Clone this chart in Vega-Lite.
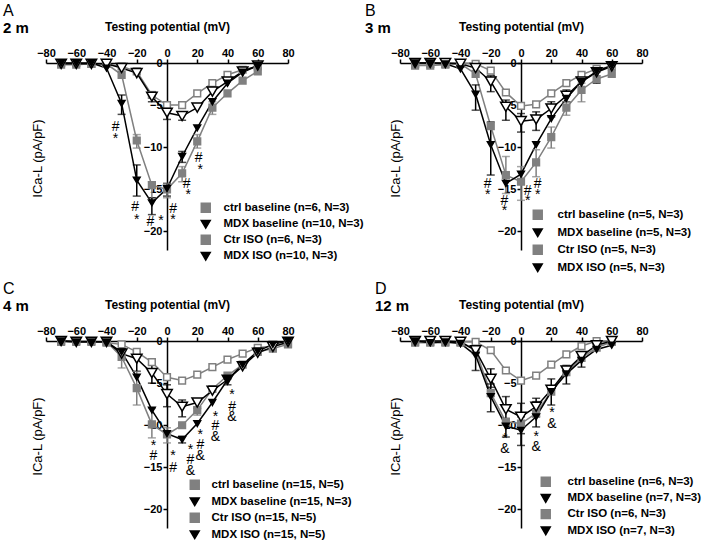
{
"$schema": "https://vega.github.io/schema/vega-lite/v6.json",
"padding": {"left": 3, "top": 3, "right": 0, "bottom": 0},
"config": {
 "font": "Liberation Sans",
 "view": {"stroke": null},
 "title": {"anchor": "start", "frame": "group", "fontSize": 16, "fontWeight": "normal", "color": "black", "subtitleFontSize": 15, "subtitleFontWeight": "bold", "subtitleColor": "black", "offset": -16, "subtitlePadding": 2},
 "axis": {"labelColor": "black", "titleColor": "black", "domainColor": "black", "tickColor": "black", "grid": false, "labelFontWeight": "bold", "labelFontSize": 11, "domainWidth": 1.5, "tickWidth": 1.5, "tickSize": 4, "labelPadding": 1},
 "legend": {"labelFontSize": 11.5, "labelFontWeight": "bold", "labelColor": "black", "labelOffset": 12, "padding": 0, "rowPadding": 0.5, "symbolSize": 80, "symbolStrokeWidth": 1.5, "symbolOpacity": 1}
},
"datasets": {
"pts": [
{"p":"A","g":"ctrl baseline","v":-70,"i":0},{"p":"A","g":"ctrl baseline","v":-60,"i":0},{"p":"A","g":"ctrl baseline","v":-50,"i":-0.1},{"p":"A","g":"ctrl baseline","v":-40,"i":-0.1},{"p":"A","g":"ctrl baseline","v":-30,"i":-0.4},{"p":"A","g":"ctrl baseline","v":-20,"i":-1.0},{"p":"A","g":"ctrl baseline","v":-10,"i":-3.8},{"p":"A","g":"ctrl baseline","v":0,"i":-5.0},{"p":"A","g":"ctrl baseline","v":10,"i":-5.0},{"p":"A","g":"ctrl baseline","v":20,"i":-3.6},{"p":"A","g":"ctrl baseline","v":30,"i":-2.4},{"p":"A","g":"ctrl baseline","v":40,"i":-1.4},{"p":"A","g":"ctrl baseline","v":50,"i":-0.8},{"p":"A","g":"ctrl baseline","v":60,"i":-0.4},
{"p":"A","g":"Ctr ISO","v":-70,"i":-0.2},{"p":"A","g":"Ctr ISO","v":-60,"i":-0.2},{"p":"A","g":"Ctr ISO","v":-50,"i":-0.1},{"p":"A","g":"Ctr ISO","v":-40,"i":-0.1},{"p":"A","g":"Ctr ISO","v":-30,"i":-1.4},{"p":"A","g":"Ctr ISO","v":-20,"i":-9.2},{"p":"A","g":"Ctr ISO","v":-10,"i":-14.5},{"p":"A","g":"Ctr ISO","v":0,"i":-15.0},{"p":"A","g":"Ctr ISO","v":10,"i":-13.1},{"p":"A","g":"Ctr ISO","v":20,"i":-9.3},{"p":"A","g":"Ctr ISO","v":30,"i":-5.3},{"p":"A","g":"Ctr ISO","v":40,"i":-3.6},{"p":"A","g":"Ctr ISO","v":50,"i":-2.1},{"p":"A","g":"Ctr ISO","v":60,"i":-1.0},
{"p":"A","g":"MDX baseline","v":-70,"i":-0.1},{"p":"A","g":"MDX baseline","v":-60,"i":-0.1},{"p":"A","g":"MDX baseline","v":-50,"i":-0.1},{"p":"A","g":"MDX baseline","v":-40,"i":-0.1},{"p":"A","g":"MDX baseline","v":-30,"i":-0.6},{"p":"A","g":"MDX baseline","v":-20,"i":-1.2},{"p":"A","g":"MDX baseline","v":-10,"i":-4.0},{"p":"A","g":"MDX baseline","v":0,"i":-5.9},{"p":"A","g":"MDX baseline","v":10,"i":-6.3},{"p":"A","g":"MDX baseline","v":20,"i":-5.3},{"p":"A","g":"MDX baseline","v":30,"i":-3.4},{"p":"A","g":"MDX baseline","v":40,"i":-2.2},{"p":"A","g":"MDX baseline","v":50,"i":-1.0},{"p":"A","g":"MDX baseline","v":60,"i":-0.3},
{"p":"A","g":"MDX ISO","v":-70,"i":0},{"p":"A","g":"MDX ISO","v":-60,"i":0},{"p":"A","g":"MDX ISO","v":-50,"i":0},{"p":"A","g":"MDX ISO","v":-40,"i":-0.6},{"p":"A","g":"MDX ISO","v":-30,"i":-4.8},{"p":"A","g":"MDX ISO","v":-20,"i":-13.9},{"p":"A","g":"MDX ISO","v":-10,"i":-16.6},{"p":"A","g":"MDX ISO","v":0,"i":-14.9},{"p":"A","g":"MDX ISO","v":10,"i":-11.1},{"p":"A","g":"MDX ISO","v":20,"i":-7.7},{"p":"A","g":"MDX ISO","v":30,"i":-4.6},{"p":"A","g":"MDX ISO","v":40,"i":-2.4},{"p":"A","g":"MDX ISO","v":50,"i":-1.1},{"p":"A","g":"MDX ISO","v":60,"i":-0.3},

{"p":"B","g":"ctrl baseline","v":-70,"i":-0.1},{"p":"B","g":"ctrl baseline","v":-60,"i":-0.1},{"p":"B","g":"ctrl baseline","v":-50,"i":-0.1},{"p":"B","g":"ctrl baseline","v":-40,"i":0},{"p":"B","g":"ctrl baseline","v":-30,"i":-0.1},{"p":"B","g":"ctrl baseline","v":-20,"i":-0.9},{"p":"B","g":"ctrl baseline","v":-10,"i":-3.5},{"p":"B","g":"ctrl baseline","v":0,"i":-5.1},{"p":"B","g":"ctrl baseline","v":10,"i":-4.9},{"p":"B","g":"ctrl baseline","v":20,"i":-3.6},{"p":"B","g":"ctrl baseline","v":30,"i":-2.4},{"p":"B","g":"ctrl baseline","v":40,"i":-1.4},{"p":"B","g":"ctrl baseline","v":50,"i":-0.7},{"p":"B","g":"ctrl baseline","v":60,"i":-0.4},
{"p":"B","g":"Ctr ISO","v":-70,"i":-0.3},{"p":"B","g":"Ctr ISO","v":-60,"i":-0.3},{"p":"B","g":"Ctr ISO","v":-50,"i":-0.2},{"p":"B","g":"Ctr ISO","v":-40,"i":-0.1},{"p":"B","g":"Ctr ISO","v":-30,"i":-1.3},{"p":"B","g":"Ctr ISO","v":-20,"i":-7.5},{"p":"B","g":"Ctr ISO","v":-10,"i":-13.3},{"p":"B","g":"Ctr ISO","v":0,"i":-14.1},{"p":"B","g":"Ctr ISO","v":10,"i":-11.8},{"p":"B","g":"Ctr ISO","v":20,"i":-8.8},{"p":"B","g":"Ctr ISO","v":30,"i":-5.3},{"p":"B","g":"Ctr ISO","v":40,"i":-3.2},{"p":"B","g":"Ctr ISO","v":50,"i":-1.9},{"p":"B","g":"Ctr ISO","v":60,"i":-1.3},
{"p":"B","g":"MDX baseline","v":-70,"i":0},{"p":"B","g":"MDX baseline","v":-60,"i":0},{"p":"B","g":"MDX baseline","v":-50,"i":0},{"p":"B","g":"MDX baseline","v":-40,"i":-0.1},{"p":"B","g":"MDX baseline","v":-30,"i":-0.6},{"p":"B","g":"MDX baseline","v":-20,"i":-2.2},{"p":"B","g":"MDX baseline","v":-10,"i":-5.2},{"p":"B","g":"MDX baseline","v":0,"i":-6.9},{"p":"B","g":"MDX baseline","v":10,"i":-6.7},{"p":"B","g":"MDX baseline","v":20,"i":-5.4},{"p":"B","g":"MDX baseline","v":30,"i":-3.9},{"p":"B","g":"MDX baseline","v":40,"i":-2.2},{"p":"B","g":"MDX baseline","v":50,"i":-1.1},{"p":"B","g":"MDX baseline","v":60,"i":-0.4},
{"p":"B","g":"MDX ISO","v":-70,"i":0},{"p":"B","g":"MDX ISO","v":-60,"i":0},{"p":"B","g":"MDX ISO","v":-50,"i":-0.1},{"p":"B","g":"MDX ISO","v":-40,"i":-0.7},{"p":"B","g":"MDX ISO","v":-30,"i":-3.7},{"p":"B","g":"MDX ISO","v":-20,"i":-9.7},{"p":"B","g":"MDX ISO","v":-10,"i":-14.3},{"p":"B","g":"MDX ISO","v":0,"i":-13.2},{"p":"B","g":"MDX ISO","v":10,"i":-9.7},{"p":"B","g":"MDX ISO","v":20,"i":-6.6},{"p":"B","g":"MDX ISO","v":30,"i":-4.2},{"p":"B","g":"MDX ISO","v":40,"i":-2.2},{"p":"B","g":"MDX ISO","v":50,"i":-1.0},{"p":"B","g":"MDX ISO","v":60,"i":-0.3},

{"p":"C","g":"ctrl baseline","v":-70,"i":0},{"p":"C","g":"ctrl baseline","v":-60,"i":0},{"p":"C","g":"ctrl baseline","v":-50,"i":0},{"p":"C","g":"ctrl baseline","v":-40,"i":-0.2},{"p":"C","g":"ctrl baseline","v":-30,"i":-0.4},{"p":"C","g":"ctrl baseline","v":-20,"i":-1.3},{"p":"C","g":"ctrl baseline","v":-10,"i":-2.5},{"p":"C","g":"ctrl baseline","v":0,"i":-4.3},{"p":"C","g":"ctrl baseline","v":10,"i":-4.7},{"p":"C","g":"ctrl baseline","v":20,"i":-4.0},{"p":"C","g":"ctrl baseline","v":30,"i":-3.1},{"p":"C","g":"ctrl baseline","v":40,"i":-2.2},{"p":"C","g":"ctrl baseline","v":50,"i":-1.5},{"p":"C","g":"ctrl baseline","v":60,"i":-0.8},{"p":"C","g":"ctrl baseline","v":70,"i":-0.6},{"p":"C","g":"ctrl baseline","v":80,"i":-0.3},
{"p":"C","g":"Ctr ISO","v":-70,"i":-0.1},{"p":"C","g":"Ctr ISO","v":-60,"i":-0.1},{"p":"C","g":"Ctr ISO","v":-50,"i":-0.1},{"p":"C","g":"Ctr ISO","v":-40,"i":-0.1},{"p":"C","g":"Ctr ISO","v":-30,"i":-1.9},{"p":"C","g":"Ctr ISO","v":-20,"i":-5.6},{"p":"C","g":"Ctr ISO","v":-10,"i":-9.9},{"p":"C","g":"Ctr ISO","v":0,"i":-11.1},{"p":"C","g":"Ctr ISO","v":10,"i":-10.0},{"p":"C","g":"Ctr ISO","v":20,"i":-8.2},{"p":"C","g":"Ctr ISO","v":30,"i":-5.7},{"p":"C","g":"Ctr ISO","v":40,"i":-4.1},{"p":"C","g":"Ctr ISO","v":50,"i":-2.8},{"p":"C","g":"Ctr ISO","v":60,"i":-1.3},{"p":"C","g":"Ctr ISO","v":70,"i":-0.9},{"p":"C","g":"Ctr ISO","v":80,"i":-0.4},
{"p":"C","g":"MDX baseline","v":-70,"i":0},{"p":"C","g":"MDX baseline","v":-60,"i":-0.1},{"p":"C","g":"MDX baseline","v":-50,"i":-0.1},{"p":"C","g":"MDX baseline","v":-40,"i":-0.1},{"p":"C","g":"MDX baseline","v":-30,"i":-1.5},{"p":"C","g":"MDX baseline","v":-20,"i":-2.1},{"p":"C","g":"MDX baseline","v":-10,"i":-3.8},{"p":"C","g":"MDX baseline","v":0,"i":-6.3},{"p":"C","g":"MDX baseline","v":10,"i":-7.8},{"p":"C","g":"MDX baseline","v":20,"i":-7.3},{"p":"C","g":"MDX baseline","v":30,"i":-5.9},{"p":"C","g":"MDX baseline","v":40,"i":-4.6},{"p":"C","g":"MDX baseline","v":50,"i":-3.0},{"p":"C","g":"MDX baseline","v":60,"i":-1.4},{"p":"C","g":"MDX baseline","v":70,"i":-0.7},{"p":"C","g":"MDX baseline","v":80,"i":-0.1},
{"p":"C","g":"MDX ISO","v":-70,"i":0},{"p":"C","g":"MDX ISO","v":-60,"i":-0.1},{"p":"C","g":"MDX ISO","v":-50,"i":-0.1},{"p":"C","g":"MDX ISO","v":-40,"i":-0.1},{"p":"C","g":"MDX ISO","v":-30,"i":-1.3},{"p":"C","g":"MDX ISO","v":-20,"i":-4.3},{"p":"C","g":"MDX ISO","v":-10,"i":-8.2},{"p":"C","g":"MDX ISO","v":0,"i":-11.0},{"p":"C","g":"MDX ISO","v":10,"i":-11.7},{"p":"C","g":"MDX ISO","v":20,"i":-9.8},{"p":"C","g":"MDX ISO","v":30,"i":-7.3},{"p":"C","g":"MDX ISO","v":40,"i":-4.6},{"p":"C","g":"MDX ISO","v":50,"i":-2.8},{"p":"C","g":"MDX ISO","v":60,"i":-1.2},{"p":"C","g":"MDX ISO","v":70,"i":-0.4},{"p":"C","g":"MDX ISO","v":80,"i":0},

{"p":"D","g":"ctrl baseline","v":-70,"i":-0.1},{"p":"D","g":"ctrl baseline","v":-60,"i":-0.1},{"p":"D","g":"ctrl baseline","v":-50,"i":-0.1},{"p":"D","g":"ctrl baseline","v":-40,"i":-0.1},{"p":"D","g":"ctrl baseline","v":-30,"i":-0.1},{"p":"D","g":"ctrl baseline","v":-20,"i":-1.1},{"p":"D","g":"ctrl baseline","v":-10,"i":-3.5},{"p":"D","g":"ctrl baseline","v":0,"i":-4.7},{"p":"D","g":"ctrl baseline","v":10,"i":-4.1},{"p":"D","g":"ctrl baseline","v":20,"i":-2.8},{"p":"D","g":"ctrl baseline","v":30,"i":-1.6},{"p":"D","g":"ctrl baseline","v":40,"i":-0.6},{"p":"D","g":"ctrl baseline","v":50,"i":0},{"p":"D","g":"ctrl baseline","v":60,"i":0},
{"p":"D","g":"Ctr ISO","v":-70,"i":-0.2},{"p":"D","g":"Ctr ISO","v":-60,"i":-0.2},{"p":"D","g":"Ctr ISO","v":-50,"i":-0.2},{"p":"D","g":"Ctr ISO","v":-40,"i":-0.2},{"p":"D","g":"Ctr ISO","v":-30,"i":-1.1},{"p":"D","g":"Ctr ISO","v":-20,"i":-6.2},{"p":"D","g":"Ctr ISO","v":-10,"i":-9.6},{"p":"D","g":"Ctr ISO","v":0,"i":-9.8},{"p":"D","g":"Ctr ISO","v":10,"i":-8.6},{"p":"D","g":"Ctr ISO","v":20,"i":-6.0},{"p":"D","g":"Ctr ISO","v":30,"i":-3.7},{"p":"D","g":"Ctr ISO","v":40,"i":-2.0},{"p":"D","g":"Ctr ISO","v":50,"i":-0.8},{"p":"D","g":"Ctr ISO","v":60,"i":-0.1},
{"p":"D","g":"MDX baseline","v":-70,"i":0},{"p":"D","g":"MDX baseline","v":-60,"i":0},{"p":"D","g":"MDX baseline","v":-50,"i":0},{"p":"D","g":"MDX baseline","v":-40,"i":-0.1},{"p":"D","g":"MDX baseline","v":-30,"i":-1.1},{"p":"D","g":"MDX baseline","v":-20,"i":-4.5},{"p":"D","g":"MDX baseline","v":-10,"i":-8.1},{"p":"D","g":"MDX baseline","v":0,"i":-9.0},{"p":"D","g":"MDX baseline","v":10,"i":-7.8},{"p":"D","g":"MDX baseline","v":20,"i":-5.8},{"p":"D","g":"MDX baseline","v":30,"i":-3.5},{"p":"D","g":"MDX baseline","v":40,"i":-1.8},{"p":"D","g":"MDX baseline","v":50,"i":-0.5},{"p":"D","g":"MDX baseline","v":60,"i":0},
{"p":"D","g":"MDX ISO","v":-70,"i":0},{"p":"D","g":"MDX ISO","v":-60,"i":-0.2},{"p":"D","g":"MDX ISO","v":-50,"i":-0.1},{"p":"D","g":"MDX ISO","v":-40,"i":-0.3},{"p":"D","g":"MDX ISO","v":-30,"i":-1.7},{"p":"D","g":"MDX ISO","v":-20,"i":-6.6},{"p":"D","g":"MDX ISO","v":-10,"i":-10.1},{"p":"D","g":"MDX ISO","v":0,"i":-10.6},{"p":"D","g":"MDX ISO","v":10,"i":-9.0},{"p":"D","g":"MDX ISO","v":20,"i":-6.0},{"p":"D","g":"MDX ISO","v":30,"i":-3.9},{"p":"D","g":"MDX ISO","v":40,"i":-2.3},{"p":"D","g":"MDX ISO","v":50,"i":-1.0},{"p":"D","g":"MDX ISO","v":60,"i":-0.5}
],
"err": [
{"p":"A","g":"MDX ISO","v":-30,"lo":-6.1,"hi":-3.8},{"p":"A","g":"MDX ISO","v":-20,"lo":-15.8,"hi":-12.1},{"p":"A","g":"MDX ISO","v":-10,"lo":-18.0,"hi":-16.0},{"p":"A","g":"MDX ISO","v":0,"lo":-15.8,"hi":-14.3},{"p":"A","g":"MDX ISO","v":10,"lo":-11.8,"hi":-10.5},
{"p":"A","g":"Ctr ISO","v":-20,"lo":-10.1,"hi":-8.5},{"p":"A","g":"Ctr ISO","v":-10,"lo":-16.0,"hi":-14.1},{"p":"A","g":"Ctr ISO","v":0,"lo":-16.0,"hi":-14.3},{"p":"A","g":"Ctr ISO","v":10,"lo":-14.1,"hi":-12.3},{"p":"A","g":"Ctr ISO","v":20,"lo":-10.1,"hi":-8.5},{"p":"A","g":"Ctr ISO","v":30,"lo":-6.1,"hi":-4.6},
{"p":"A","g":"MDX baseline","v":0,"lo":-6.7,"hi":-5.3},{"p":"A","g":"MDX baseline","v":10,"lo":-6.8,"hi":-5.9},{"p":"A","g":"MDX baseline","v":-10,"lo":-4.6,"hi":-3.4},
{"p":"B","g":"MDX ISO","v":-30,"lo":-5.6,"hi":-2.6},{"p":"B","g":"MDX ISO","v":-20,"lo":-13.3,"hi":-7.0},
{"p":"B","g":"Ctr ISO","v":-10,"lo":-15.5,"hi":-11.1},{"p":"B","g":"Ctr ISO","v":0,"lo":-16.3,"hi":-12.3},{"p":"B","g":"Ctr ISO","v":10,"lo":-13.5,"hi":-10.3},{"p":"B","g":"Ctr ISO","v":20,"lo":-10.1,"hi":-7.6},{"p":"B","g":"Ctr ISO","v":30,"lo":-6.2,"hi":-4.6},{"p":"B","g":"Ctr ISO","v":40,"lo":-4.6,"hi":-2.4},
{"p":"B","g":"MDX baseline","v":-20,"lo":-3.4,"hi":-1.5},{"p":"B","g":"MDX baseline","v":-10,"lo":-6.8,"hi":-4.4},{"p":"B","g":"MDX baseline","v":0,"lo":-8.2,"hi":-6.0},{"p":"B","g":"MDX baseline","v":10,"lo":-8.0,"hi":-5.8},{"p":"B","g":"MDX baseline","v":20,"lo":-6.4,"hi":-4.6},{"p":"B","g":"MDX baseline","v":30,"lo":-4.6,"hi":-3.2},{"p":"B","g":"MDX baseline","v":50,"lo":-2.4,"hi":-0.5},
{"p":"C","g":"Ctr ISO","v":-30,"lo":-3.2,"hi":-1.1},{"p":"C","g":"Ctr ISO","v":-20,"lo":-7.6,"hi":-3.6},{"p":"C","g":"Ctr ISO","v":-10,"lo":-11.5,"hi":-8.0},{"p":"C","g":"Ctr ISO","v":0,"lo":-12.1,"hi":-10.3},{"p":"C","g":"Ctr ISO","v":20,"lo":-8.8,"hi":-7.8},
{"p":"C","g":"MDX baseline","v":-20,"lo":-3.6,"hi":-1.3},{"p":"C","g":"MDX baseline","v":-10,"lo":-5.0,"hi":-2.8},{"p":"C","g":"MDX baseline","v":0,"lo":-7.8,"hi":-5.2},{"p":"C","g":"MDX baseline","v":10,"lo":-9.0,"hi":-7.0},{"p":"C","g":"MDX baseline","v":20,"lo":-8.0,"hi":-7.0},
{"p":"C","g":"MDX ISO","v":10,"lo":-12.1,"hi":-11.3},{"p":"C","g":"MDX ISO","v":40,"lo":-5.2,"hi":-4.2},
{"p":"D","g":"MDX ISO","v":-30,"lo":-3.5,"hi":-0.7},{"p":"D","g":"MDX ISO","v":-20,"lo":-8.4,"hi":-5.1},{"p":"D","g":"MDX ISO","v":-10,"lo":-11.4,"hi":-9.2},{"p":"D","g":"MDX ISO","v":0,"lo":-12.4,"hi":-9.0},{"p":"D","g":"MDX ISO","v":10,"lo":-10.2,"hi":-7.2},{"p":"D","g":"MDX ISO","v":20,"lo":-7.6,"hi":-4.5},{"p":"D","g":"MDX ISO","v":30,"lo":-5.1,"hi":-2.9},{"p":"D","g":"MDX ISO","v":40,"lo":-3.1,"hi":-1.3},
{"p":"D","g":"MDX baseline","v":-20,"lo":-5.5,"hi":-3.3},{"p":"D","g":"MDX baseline","v":-10,"lo":-9.8,"hi":-6.6},{"p":"D","g":"MDX baseline","v":0,"lo":-11.0,"hi":-7.4},{"p":"D","g":"MDX baseline","v":10,"lo":-9.0,"hi":-6.8}
],
"ann": [
{"p":"A","v":-34,"i":-7.6,"t":"#"},{"p":"A","v":-34,"i":-9.0,"t":"*"},{"p":"A","v":-21,"i":-17.1,"t":"#"},{"p":"A","v":-20,"i":-18.6,"t":"*"},{"p":"A","v":-11,"i":-18.9,"t":"#"},{"p":"A","v":-4,"i":-18.8,"t":"*"},{"p":"A","v":4,"i":-17.3,"t":"#"},{"p":"A","v":4,"i":-18.6,"t":"*"},{"p":"A","v":13,"i":-14.4,"t":"#"},{"p":"A","v":14,"i":-15.7,"t":"*"},{"p":"A","v":21,"i":-11.3,"t":"#"},{"p":"A","v":22,"i":-12.7,"t":"*"},
{"p":"B","v":-22,"i":-14.4,"t":"#"},{"p":"B","v":-22,"i":-15.7,"t":"*"},{"p":"B","v":-11,"i":-16.4,"t":"#"},{"p":"B","v":-11,"i":-17.6,"t":"*"},{"p":"B","v":4.4,"i":-15.2,"t":"#"},{"p":"B","v":4.4,"i":-16.4,"t":"*"},{"p":"B","v":11,"i":-14.4,"t":"#"},{"p":"B","v":11,"i":-15.7,"t":"*"},
{"p":"C","v":-9,"i":-12.5,"t":"*"},{"p":"C","v":-9,"i":-13.7,"t":"#"},{"p":"C","v":4,"i":-13.7,"t":"*"},{"p":"C","v":4,"i":-15.1,"t":"#"},{"p":"C","v":15.5,"i":-12.9,"t":"*"},{"p":"C","v":15.5,"i":-14.1,"t":"#"},{"p":"C","v":15.5,"i":-15.4,"t":"&"},{"p":"C","v":22,"i":-11.1,"t":"*"},{"p":"C","v":22,"i":-12.3,"t":"#"},{"p":"C","v":22,"i":-13.6,"t":"&"},{"p":"C","v":32,"i":-9.0,"t":"*"},{"p":"C","v":32,"i":-10.1,"t":"#"},{"p":"C","v":32,"i":-11.4,"t":"&"},{"p":"C","v":43,"i":-6.4,"t":"*"},{"p":"C","v":43,"i":-7.8,"t":"#"},{"p":"C","v":43,"i":-9.0,"t":"&"},
{"p":"D","v":-10.6,"i":-11.6,"t":"*"},{"p":"D","v":-10.6,"i":-12.8,"t":"&"},{"p":"D","v":10,"i":-11.4,"t":"*"},{"p":"D","v":10,"i":-12.6,"t":"&"},{"p":"D","v":20.5,"i":-8.6,"t":"*"},{"p":"D","v":20.5,"i":-9.8,"t":"&"}
]
},
"columns": 2,
"spacing": {"row": 91, "column": 112},
"bounds": "flush",
"resolve": {"scale": {"color": "independent", "fill": "independent", "shape": "independent", "x": "independent", "y": "independent"}, "legend": {"color": "independent"}, "axis": {"x": "independent", "y": "independent"}},
"concat": [
{
 "width": 242, "height": 187,
 "title": {"text": "A", "subtitle": "\u00a0\u00a0\u00a02 m", "dx": -43},
 "encoding": {
  "x": {"field": "v", "type": "quantitative", "scale": {"domain": [-80, 80], "nice": false}, "axis": {"orient": "top", "values": [-80,-60,-40,-20,0,20,40,60,80], "title": "Testing potential (mV)", "titleFontWeight": "bold", "titleFontSize": 12, "titlePadding": 14, "labelOverlap": false, "labelFlush": false}},
  "color": {"field": "g", "type": "nominal", "scale": {"domain": ["ctrl baseline","MDX baseline","Ctr ISO","MDX ISO"], "range": ["#808080","black","#808080","black"]},
   "legend": {"orient": "none", "legendX": 154, "legendY": 139, "rowPadding": 0.5, "labelOffset": 12, "title": null, "labelExpr": "datum.label + ((datum.label == 'MDX baseline' || datum.label == 'MDX ISO') ? ' (n=10, N=3)' : ' (n=6, N=3)')"}}
 },
 "layer": [
  {"data": {"name": "pts"}, "transform": [{"filter": "datum.p == 'A'"}], "mark": {"type": "line", "strokeWidth": 1.5},
   "encoding": {"y": {"field": "i", "type": "quantitative", "scale": {"domain": [-22.2, 0], "nice": false, "zero": false},
     "axis": {"orient": "left", "offset": -121, "values": [0,-5,-10,-15,-20], "title": "ICa-L (pA/pF)", "titleX": -130, "titleY": 95, "titleAngle": -90, "titleFontWeight": "normal", "titleFontSize": 13, "titleAlign": "center", "titleBaseline": "middle"}},
    "order": {"field": "v", "type": "quantitative"}}},
  {"data": {"name": "err"}, "transform": [{"filter": "datum.p == 'A'"}], "mark": {"type": "errorbar", "ticks": {"size": 8}, "thickness": 1.5},
   "encoding": {"y": {"field": "lo", "type": "quantitative", "title": "ICa-L (pA/pF)"}, "y2": {"field": "hi"}}},
  {"data": {"name": "pts"}, "transform": [{"filter": "datum.p == 'A'"}], "mark": {"type": "point", "filled": false, "strokeWidth": 1.5, "opacity": 1, "fillOpacity": 1},
   "encoding": {"y": {"field": "i", "type": "quantitative", "title": "ICa-L (pA/pF)"},
    "size": {"condition": {"test": "datum.g == 'MDX baseline'", "value": 110}, "value": 45},
    "fill": {"field": "g", "type": "nominal", "scale": {"domain": ["ctrl baseline","MDX baseline","Ctr ISO","MDX ISO"], "range": ["white","white","#808080","black"]}, "legend": null},
    "shape": {"field": "g", "type": "nominal", "scale": {"domain": ["ctrl baseline","MDX baseline","Ctr ISO","MDX ISO"], "range": ["square","triangle-down","square","triangle-down"]}, "legend": null}}},
  {"data": {"name": "ann"}, "transform": [{"filter": "datum.p == 'A'"}], "mark": {"type": "text", "fontSize": 14},
   "encoding": {"y": {"field": "i", "type": "quantitative", "title": "ICa-L (pA/pF)"}, "text": {"field": "t"}, "color": {"value": "black"}}}
 ]
},
{
 "width": 242, "height": 187,
 "title": {"text": "B", "subtitle": "\u00a0\u00a0\u00a0\u00a03 m", "dx": -35},
 "encoding": {
  "x": {"field": "v", "type": "quantitative", "scale": {"domain": [-80, 80], "nice": false}, "axis": {"orient": "top", "values": [-80,-60,-40,-20,0,20,40,60,80], "title": "Testing potential (mV)", "titleFontWeight": "bold", "titleFontSize": 12, "titlePadding": 14, "labelOverlap": false, "labelFlush": false}},
  "color": {"field": "g", "type": "nominal", "scale": {"domain": ["ctrl baseline","MDX baseline","Ctr ISO","MDX ISO"], "range": ["#808080","black","#808080","black"]},
   "legend": {"orient": "none", "legendX": 132, "legendY": 146, "rowPadding": 2, "labelOffset": 14, "title": null, "labelExpr": "datum.label + ' (n=5, N=3)'"}}
 },
 "layer": [
  {"data": {"name": "pts"}, "transform": [{"filter": "datum.p == 'B'"}], "mark": {"type": "line", "strokeWidth": 1.5},
   "encoding": {"y": {"field": "i", "type": "quantitative", "scale": {"domain": [-22.2, 0], "nice": false, "zero": false},
     "axis": {"orient": "left", "offset": -121, "values": [0,-5,-10,-15,-20], "title": "ICa-L (pA/pF)", "titleX": -126, "titleY": 95, "titleAngle": -90, "titleFontWeight": "normal", "titleFontSize": 13, "titleAlign": "center", "titleBaseline": "middle"}},
    "order": {"field": "v", "type": "quantitative"}}},
  {"data": {"name": "err"}, "transform": [{"filter": "datum.p == 'B'"}], "mark": {"type": "errorbar", "ticks": {"size": 8}, "thickness": 1.5},
   "encoding": {"y": {"field": "lo", "type": "quantitative", "title": "ICa-L (pA/pF)"}, "y2": {"field": "hi"}}},
  {"data": {"name": "pts"}, "transform": [{"filter": "datum.p == 'B'"}], "mark": {"type": "point", "filled": false, "strokeWidth": 1.5, "opacity": 1, "fillOpacity": 1},
   "encoding": {"y": {"field": "i", "type": "quantitative", "title": "ICa-L (pA/pF)"},
    "size": {"condition": {"test": "datum.g == 'MDX baseline'", "value": 110}, "value": 45},
    "fill": {"field": "g", "type": "nominal", "scale": {"domain": ["ctrl baseline","MDX baseline","Ctr ISO","MDX ISO"], "range": ["white","white","#808080","black"]}, "legend": null},
    "shape": {"field": "g", "type": "nominal", "scale": {"domain": ["ctrl baseline","MDX baseline","Ctr ISO","MDX ISO"], "range": ["square","triangle-down","square","triangle-down"]}, "legend": null}}},
  {"data": {"name": "ann"}, "transform": [{"filter": "datum.p == 'B'"}], "mark": {"type": "text", "fontSize": 14},
   "encoding": {"y": {"field": "i", "type": "quantitative", "title": "ICa-L (pA/pF)"}, "text": {"field": "t"}, "color": {"value": "black"}}}
 ]
},
{
 "width": 242, "height": 187,
 "title": {"text": "C", "subtitle": "4 m", "dx": -43},
 "encoding": {
  "x": {"field": "v", "type": "quantitative", "scale": {"domain": [-80, 80], "nice": false}, "axis": {"orient": "top", "values": [-80,-60,-40,-20,0,20,40,60,80], "title": "Testing potential (mV)", "titleFontWeight": "bold", "titleFontSize": 12, "titlePadding": 14, "labelOverlap": false, "labelFlush": false}},
  "color": {"field": "g", "type": "nominal", "scale": {"domain": ["ctrl baseline","MDX baseline","Ctr ISO","MDX ISO"], "range": ["#808080","black","#808080","black"]},
   "legend": {"orient": "none", "legendX": 143, "legendY": 138, "rowPadding": 1, "labelOffset": 11, "title": null, "labelExpr": "datum.label + (datum.label == 'MDX baseline' ? ' (n=15, N=3)' : ' (n=15, N=5)')"}}
 },
 "layer": [
  {"data": {"name": "pts"}, "transform": [{"filter": "datum.p == 'C'"}], "mark": {"type": "line", "strokeWidth": 1.5},
   "encoding": {"y": {"field": "i", "type": "quantitative", "scale": {"domain": [-22.2, 0], "nice": false, "zero": false},
     "axis": {"orient": "left", "offset": -121, "values": [0,-5,-10,-15,-20], "title": "ICa-L (pA/pF)", "titleX": -130, "titleY": 95, "titleAngle": -90, "titleFontWeight": "normal", "titleFontSize": 13, "titleAlign": "center", "titleBaseline": "middle"}},
    "order": {"field": "v", "type": "quantitative"}}},
  {"data": {"name": "err"}, "transform": [{"filter": "datum.p == 'C'"}], "mark": {"type": "errorbar", "ticks": {"size": 8}, "thickness": 1.5},
   "encoding": {"y": {"field": "lo", "type": "quantitative", "title": "ICa-L (pA/pF)"}, "y2": {"field": "hi"}}},
  {"data": {"name": "pts"}, "transform": [{"filter": "datum.p == 'C'"}], "mark": {"type": "point", "filled": false, "strokeWidth": 1.5, "opacity": 1, "fillOpacity": 1},
   "encoding": {"y": {"field": "i", "type": "quantitative", "title": "ICa-L (pA/pF)"},
    "size": {"condition": {"test": "datum.g == 'MDX baseline'", "value": 110}, "value": 45},
    "fill": {"field": "g", "type": "nominal", "scale": {"domain": ["ctrl baseline","MDX baseline","Ctr ISO","MDX ISO"], "range": ["white","white","#808080","black"]}, "legend": null},
    "shape": {"field": "g", "type": "nominal", "scale": {"domain": ["ctrl baseline","MDX baseline","Ctr ISO","MDX ISO"], "range": ["square","triangle-down","square","triangle-down"]}, "legend": null}}},
  {"data": {"name": "ann"}, "transform": [{"filter": "datum.p == 'C'"}], "mark": {"type": "text", "fontSize": 14},
   "encoding": {"y": {"field": "i", "type": "quantitative", "title": "ICa-L (pA/pF)"}, "text": {"field": "t"}, "color": {"value": "black"}}}
 ]
},
{
 "width": 242, "height": 187,
 "title": {"text": "D", "subtitle": "\u00a0\u00a012 m", "dx": -25},
 "encoding": {
  "x": {"field": "v", "type": "quantitative", "scale": {"domain": [-80, 80], "nice": false}, "axis": {"orient": "top", "values": [-80,-60,-40,-20,0,20,40,60,80], "title": "Testing potential (mV)", "titleFontWeight": "bold", "titleFontSize": 12, "titlePadding": 14, "labelOverlap": false, "labelFlush": false}},
  "color": {"field": "g", "type": "nominal", "scale": {"domain": ["ctrl baseline","MDX baseline","Ctr ISO","MDX ISO"], "range": ["#808080","black","#808080","black"]},
   "legend": {"orient": "none", "legendX": 140, "legendY": 135, "rowPadding": 0.7, "labelOffset": 16, "title": null, "labelExpr": "datum.label + ((datum.label == 'MDX baseline' || datum.label == 'MDX ISO') ? ' (n=7, N=3)' : ' (n=6, N=3)')"}}
 },
 "layer": [
  {"data": {"name": "pts"}, "transform": [{"filter": "datum.p == 'D'"}], "mark": {"type": "line", "strokeWidth": 1.5},
   "encoding": {"y": {"field": "i", "type": "quantitative", "scale": {"domain": [-22.2, 0], "nice": false, "zero": false},
     "axis": {"orient": "left", "offset": -121, "values": [0,-5,-10,-15,-20], "title": "ICa-L (pA/pF)", "titleX": -126, "titleY": 95, "titleAngle": -90, "titleFontWeight": "normal", "titleFontSize": 13, "titleAlign": "center", "titleBaseline": "middle"}},
    "order": {"field": "v", "type": "quantitative"}}},
  {"data": {"name": "err"}, "transform": [{"filter": "datum.p == 'D'"}], "mark": {"type": "errorbar", "ticks": {"size": 8}, "thickness": 1.5},
   "encoding": {"y": {"field": "lo", "type": "quantitative", "title": "ICa-L (pA/pF)"}, "y2": {"field": "hi"}}},
  {"data": {"name": "pts"}, "transform": [{"filter": "datum.p == 'D'"}], "mark": {"type": "point", "filled": false, "strokeWidth": 1.5, "opacity": 1, "fillOpacity": 1},
   "encoding": {"y": {"field": "i", "type": "quantitative", "title": "ICa-L (pA/pF)"},
    "size": {"condition": {"test": "datum.g == 'MDX baseline'", "value": 110}, "value": 45},
    "fill": {"field": "g", "type": "nominal", "scale": {"domain": ["ctrl baseline","MDX baseline","Ctr ISO","MDX ISO"], "range": ["white","white","#808080","black"]}, "legend": null},
    "shape": {"field": "g", "type": "nominal", "scale": {"domain": ["ctrl baseline","MDX baseline","Ctr ISO","MDX ISO"], "range": ["square","triangle-down","square","triangle-down"]}, "legend": null}}},
  {"data": {"name": "ann"}, "transform": [{"filter": "datum.p == 'D'"}], "mark": {"type": "text", "fontSize": 14},
   "encoding": {"y": {"field": "i", "type": "quantitative", "title": "ICa-L (pA/pF)"}, "text": {"field": "t"}, "color": {"value": "black"}}}
 ]
}
]
}
